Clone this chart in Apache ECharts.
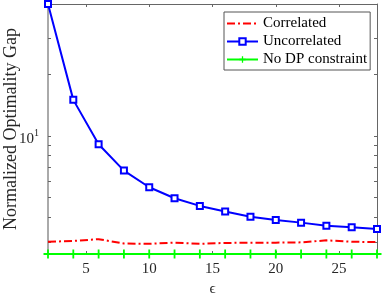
<!DOCTYPE html>
<html>
<head>
<meta charset="utf-8">
<script src="https://cdn.jsdelivr.net/npm/echarts@6/dist/echarts.min.js"></script>
<style>html,body{margin:0;padding:0;background:#fff}#c{width:382px;height:296px}</style>
</head>
<body>
<div id="c"></div>
<script>
const epsilon = [2, 4, 6, 8, 10, 12, 14, 16, 18, 20, 22, 24, 26, 28];
const correlated = [3.03, 3.06, 3.12, 2.97, 2.96, 3.00, 2.96, 2.99, 3.00, 3.00, 3.01, 3.08, 3.03, 3.02];
const uncorrelated = [44.2, 15.0, 9.1, 6.76, 5.60, 4.95, 4.54, 4.26, 4.02, 3.87, 3.76, 3.63, 3.57, 3.50];
const noDP = [2.64, 2.64, 2.64, 2.64, 2.64, 2.64, 2.64, 2.64, 2.64, 2.64, 2.64, 2.64, 2.64, 2.64];
const xTicks = [5, 10, 15, 20, 25];
const yLabelTicks = [10];
const yMinorTicks = [3, 4, 5, 6, 7, 8, 9, 10, 20, 30];
const seriesNames = ['Correlated', 'Uncorrelated', 'No DP constraint'];

const FONT = "'Liberation Serif', 'Times New Roman', serif";
const TXT = '#262626';
const pair = (xs, ys) => xs.map((x, i) => [x, ys[i]]);
const plusPath = 'path://M4,0h2v4h4v2h-4v4h-2v-4h-4v-2h4z';

const chart = echarts.init(document.getElementById('c'), null, {renderer: 'canvas'});
const yCommon = {
  type: 'log', logBase: 10, min: 2.64, max: 44.2,
  splitLine: {show: false}, minorTick: {show: false}, minorSplitLine: {show: false}
};
const xCommon = {type: 'value', min: 2, max: 28, splitLine: {show: false}};
chart.setOption({
  animation: false,
  backgroundColor: '#fff',
  textStyle: {fontFamily: FONT},
  grid: {left: 48, right: 5, top: 4, bottom: 42, containLabel: false, outerBoundsMode: 'none'},
  legend: {
    orient: 'vertical', left: 224, top: 12,
    data: [
      {name: seriesNames[0], itemStyle: {opacity: 0}},
      {name: seriesNames[1]},
      {name: seriesNames[2]}
    ],
    itemWidth: 31, itemHeight: 8, itemGap: 1,
    padding: [3, 3, 2, 2],
    borderColor: '#555', borderWidth: 1, backgroundColor: '#fff',
    textStyle: {fontFamily: FONT, fontSize: 15, color: '#000', lineHeight: 17}
  },
  xAxis: [
    Object.assign({}, xCommon, {
      position: 'bottom',
      name: 'ϵ', nameLocation: 'middle', nameGap: 28, nameMoveOverlap: false,
      nameTextStyle: {fontFamily: FONT, fontSize: 15, color: TXT},
      axisLine: {show: true, lineStyle: {color: '#999', width: 1}},
      axisTick: {show: true, inside: true, length: 3, customValues: xTicks, lineStyle: {color: '#666'}},
      axisLabel: {customValues: xTicks, margin: 8, fontFamily: FONT, fontSize: 15, color: TXT}
    }),
    Object.assign({}, xCommon, {
      position: 'top',
      axisLine: {show: true, lineStyle: {color: '#666', width: 1}},
      axisTick: {show: true, inside: true, length: 3, customValues: xTicks, lineStyle: {color: '#666'}},
      axisLabel: {show: false}
    })
  ],
  yAxis: [
    Object.assign({}, yCommon, {
      position: 'left',
      name: 'Normalized Optimality Gap', nameLocation: 'middle', nameGap: 28, nameMoveOverlap: false,
      nameTextStyle: {fontFamily: FONT, fontSize: 18, color: TXT},
      axisLine: {show: true, lineStyle: {color: '#aaa', width: 2}},
      axisTick: {show: true, inside: true, length: 3, customValues: yMinorTicks, lineStyle: {color: '#666'}},
      axisLabel: {
        customValues: yLabelTicks, margin: 9, color: TXT,
        formatter: v => '{b|10}{s|1}',
        rich: {
          b: {fontFamily: FONT, fontSize: 15, color: TXT, padding: [6, 0, 0, 0]},
          s: {fontFamily: FONT, fontSize: 10, color: TXT, padding: [0, 0, 4, 0]}
        }
      }
    }),
    Object.assign({}, yCommon, {
      position: 'right',
      axisLine: {show: true, lineStyle: {color: '#666', width: 1}},
      axisTick: {show: true, inside: true, length: 3, customValues: yMinorTicks, lineStyle: {color: '#666'}},
      axisLabel: {show: false}
    })
  ],
  series: [
    {
      name: seriesNames[0], type: 'line', xAxisIndex: 0, yAxisIndex: 0,
      data: pair(epsilon, correlated), symbol: 'none', clip: false,
      lineStyle: {color: '#ff0000', width: 2, type: [8, 3, 2, 3]},
      itemStyle: {color: '#ff0000'}, z: 3
    },
    {
      name: seriesNames[1], type: 'line', xAxisIndex: 0, yAxisIndex: 0,
      data: pair(epsilon, uncorrelated), symbol: 'emptyRect', symbolSize: 6, clip: false,
      lineStyle: {color: '#0000ff', width: 2},
      itemStyle: {color: '#0000ff', borderColor: '#0000ff', borderWidth: 1.5}, z: 4
    },
    {
      name: seriesNames[2], type: 'line', xAxisIndex: 0, yAxisIndex: 0,
      data: pair(epsilon, noDP), symbol: plusPath, symbolSize: 9, clip: false,
      lineStyle: {color: '#00ff00', width: 2},
      itemStyle: {color: '#00ff00'}, z: 5
    }
  ]
});
</script>
</body>
</html>
